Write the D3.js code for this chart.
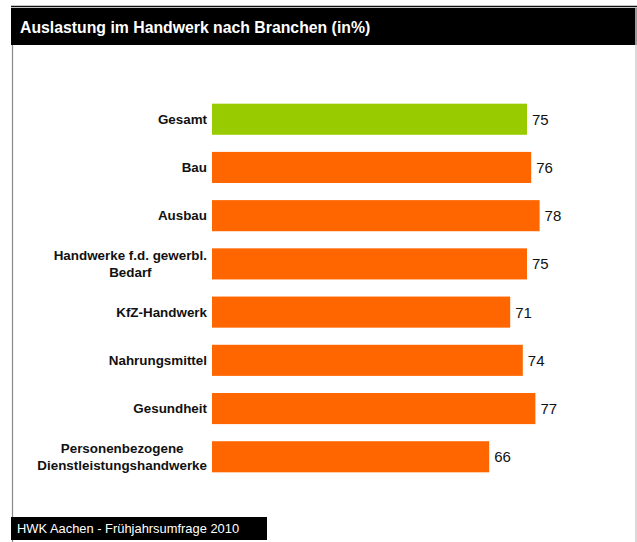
<!DOCTYPE html>
<html><head><meta charset="utf-8">
<script src="https://cdn.jsdelivr.net/npm/d3@7"></script>
<style>body{margin:0;background:#fff;}svg{display:block;font-family:"Liberation Sans",Arial,sans-serif;}</style>
</head><body>
<svg id="c" width="637" height="542"></svg>
<script>
const categories = [["Gesamt"],["Bau"],["Ausbau"],["Handwerke f.d. gewerbl.","Bedarf"],["KfZ-Handwerk"],["Nahrungsmittel"],["Gesundheit"],["Personenbezogene","Dienstleistungshandwerke"]];
const values = [75,76,78,75,71,74,77,66];
const title = "Auslastung im Handwerk nach Branchen (in%)";
const footer = "HWK Aachen - Frühjahrsumfrage 2010";

const svg = d3.select("#c");
// frame
svg.append("line").attr("x1",11).attr("x2",637).attr("y1",6.5).attr("y2",6.5).attr("stroke","#111").attr("stroke-width",1.5);
svg.append("rect").attr("x",11).attr("y",8).attr("width",626).attr("height",37).attr("fill","#000");
svg.append("line").attr("x1",12.5).attr("x2",12.5).attr("y1",45).attr("y2",542).attr("stroke","#888").attr("stroke-width",1.2);
svg.append("line").attr("x1",636).attr("x2",636).attr("y1",8).attr("y2",542).attr("stroke","#ccc").attr("stroke-width",1.5);
svg.append("text").attr("x",20).attr("y",32.5).attr("fill","#fff").attr("font-weight","bold").attr("font-size",15.8).text(title);
svg.append("rect").attr("x",11).attr("y",517).attr("width",256).attr("height",23).attr("fill","#000");
svg.append("text").attr("x",17).attr("y",533).attr("fill","#fff").attr("font-size",12.9).text(footer);

const x = d3.scaleLinear().domain([0,75]).range([212,527]);
const y = d3.scaleBand().domain(d3.range(values.length)).range([95,481]).paddingInner(0.355).paddingOuter(0.18);

const g = svg.append("g");
g.selectAll("rect.bar").data(values).join("rect").attr("class","bar")
  .attr("x",x(0)).attr("y",(d,i)=>y(i)).attr("height",y.bandwidth())
  .attr("width",d=>x(d)-x(0)).attr("fill",(d,i)=>i===0?"#99cc00":"#ff6600");
g.selectAll("text.val").data(values).join("text").attr("class","val")
  .attr("x",d=>x(d)+5).attr("y",(d,i)=>y(i)+y.bandwidth()/2).attr("dy","0.36em")
  .attr("font-size",15).attr("fill","#111").text(d=>d);

const labelRight = 207, lh = 17;
categories.forEach((lines,i)=>{
  const t = g.append("text").attr("font-weight","bold").attr("font-size",13.4).attr("fill","#111");
  const cy = y(i)+y.bandwidth()/2;
  const spans = lines.map((l,k)=>t.append("tspan").text(l).attr("y",cy+(k-(lines.length-1)/2)*lh).attr("dy","0.36em"));
  if(lines.length===1){ t.attr("text-anchor","end"); spans[0].attr("x",labelRight); }
  else {
    const w = d3.max(spans,s=>s.node().getComputedTextLength());
    t.attr("text-anchor","middle"); spans.forEach(s=>s.attr("x",labelRight-w/2));
  }
});
</script>
</body></html>
